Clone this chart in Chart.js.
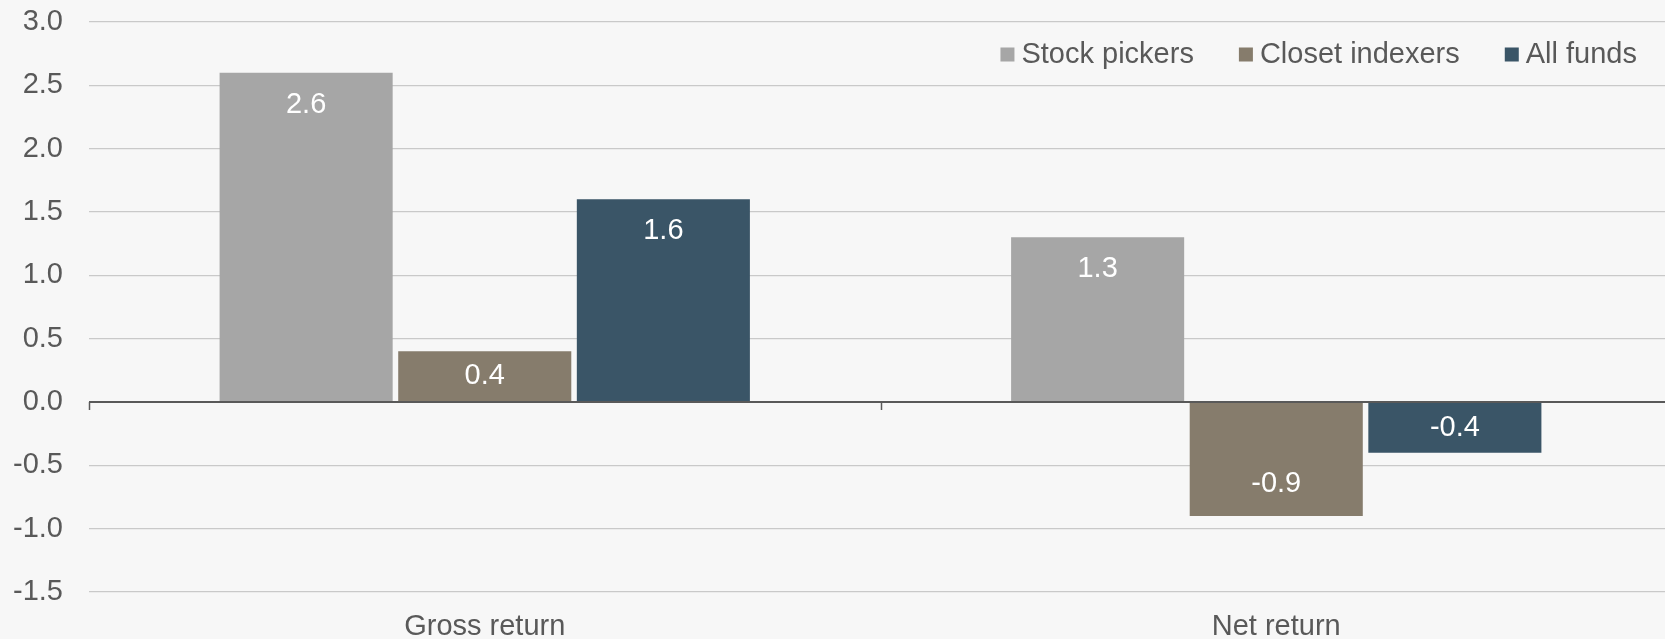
<!DOCTYPE html>
<html><head><meta charset="utf-8">
<script src="https://cdn.jsdelivr.net/npm/chart.js@4"></script>
<style>
html,body{margin:0;padding:0;background:#f7f7f7;overflow:hidden;}
#wrap{width:1673px;height:639px;position:relative;}
</style></head><body>
<div id="wrap"><canvas id="c"></canvas></div>
<script>
// ---- data ----
const categories = ["Gross return", "Net return"];
const seriesNames = ["Stock pickers", "Closet indexers", "All funds"];
const stockPickers = [2.6, 1.3];
const closetIndexers = [0.4, -0.9];
const allFunds = [1.6, -0.4];
const yMin = -1.5, yMax = 3.0, yStep = 0.5;

// ---- style ----
const FONT = '"Liberation Sans", Arial, sans-serif';
const FS = 29;
const TXT = '#595959';
const colors = ['#a6a6a6', '#867c6c', '#3a5567'];

const overlay = {
  id: 'overlay',
  afterDatasetsDraw(chart) {
    const ctx = chart.ctx, ca = chart.chartArea;
    const y = chart.scales.y;
    const y0 = y.getPixelForValue(0);
    ctx.save();
    // zero line
    ctx.strokeStyle = '#595959';
    ctx.lineWidth = 2;
    ctx.beginPath(); ctx.moveTo(ca.left, y0); ctx.lineTo(ca.right, y0); ctx.stroke();
    // category boundary ticks on zero line
    ctx.lineWidth = 1.5;
    const n = categories.length, w = (ca.right - ca.left) / n;
    for (let i = 0; i <= n; i++) {
      const px = Math.round(ca.left + i * w) + 0.5;
      ctx.beginPath(); ctx.moveTo(px, y0); ctx.lineTo(px, y0 + 8); ctx.stroke();
    }
    // data labels
    ctx.font = FS + 'px ' + FONT;
    ctx.fillStyle = '#ffffff';
    ctx.textAlign = 'center';
    ctx.textBaseline = 'middle';
    chart.data.datasets.forEach((ds, di) => {
      chart.getDatasetMeta(di).data.forEach((el, i) => {
        const v = ds.data[i];
        const h = Math.abs(el.base - el.y);
        const off = Math.min(32, h / 2);
        const ly = v >= 0 ? el.y + off : el.y - off;
        ctx.fillText(v.toFixed(1), el.x, ly);
      });
    });
    // legend
    ctx.textAlign = 'left';
    ctx.textBaseline = 'alphabetic';
    const box = 14, gapBT = 7, gapItems = 45, right = 1637;
    const widths = seriesNames.map(s => ctx.measureText(s).width);
    let total = 0;
    widths.forEach((tw, i) => { total += box + gapBT + tw + (i < widths.length - 1 ? gapItems : 0); });
    let lx = right - total;
    seriesNames.forEach((s, i) => {
      ctx.fillStyle = colors[i];
      ctx.fillRect(lx, 47.5, box, box);
      ctx.fillStyle = TXT;
      ctx.fillText(s, lx + box + gapBT, 63);
      lx += box + gapBT + widths[i] + gapItems;
    });
    ctx.restore();
  }
};

const seriesData = [stockPickers, closetIndexers, allFunds];
new Chart(document.getElementById('c'), {
  type: 'bar',
  data: {
    labels: categories,
    datasets: seriesNames.map((name, i) => ({
      label: name,
      data: seriesData[i],
      backgroundColor: colors[i],
      borderWidth: 0,
      categoryPercentage: 0.677,
      barPercentage: 0.969
    }))
  },
  options: {
    responsive: true,
    maintainAspectRatio: false,
    animation: false,
    layout: { padding: { top: 22, left: 0, right: 1, bottom: 0 } },
    plugins: { legend: { display: false }, tooltip: { enabled: false } },
    scales: {
      x: {
        grid: { display: false },
        border: { display: false },
        ticks: { font: { family: FONT, size: FS }, color: TXT, padding: 10 },
        afterFit: s => { s.height = 47; }
      },
      y: {
        min: yMin, max: yMax,
        border: { display: false },
        grid: {
          drawTicks: false,
          color: c => (c.tick && c.tick.value === 0) ? '#595959' : '#c9c9c9',
          lineWidth: c => (c.tick && c.tick.value === 0) ? 2 : 1.3
        },
        ticks: {
          stepSize: yStep,
          padding: 26,
          font: { family: FONT, size: FS },
          color: TXT,
          callback: v => Number(v).toFixed(1)
        },
        afterFit: s => { s.width = 89; s.paddingTop = 0; s.paddingBottom = 0; }
      }
    }
  },
  plugins: [overlay]
});
</script>
</body></html>
